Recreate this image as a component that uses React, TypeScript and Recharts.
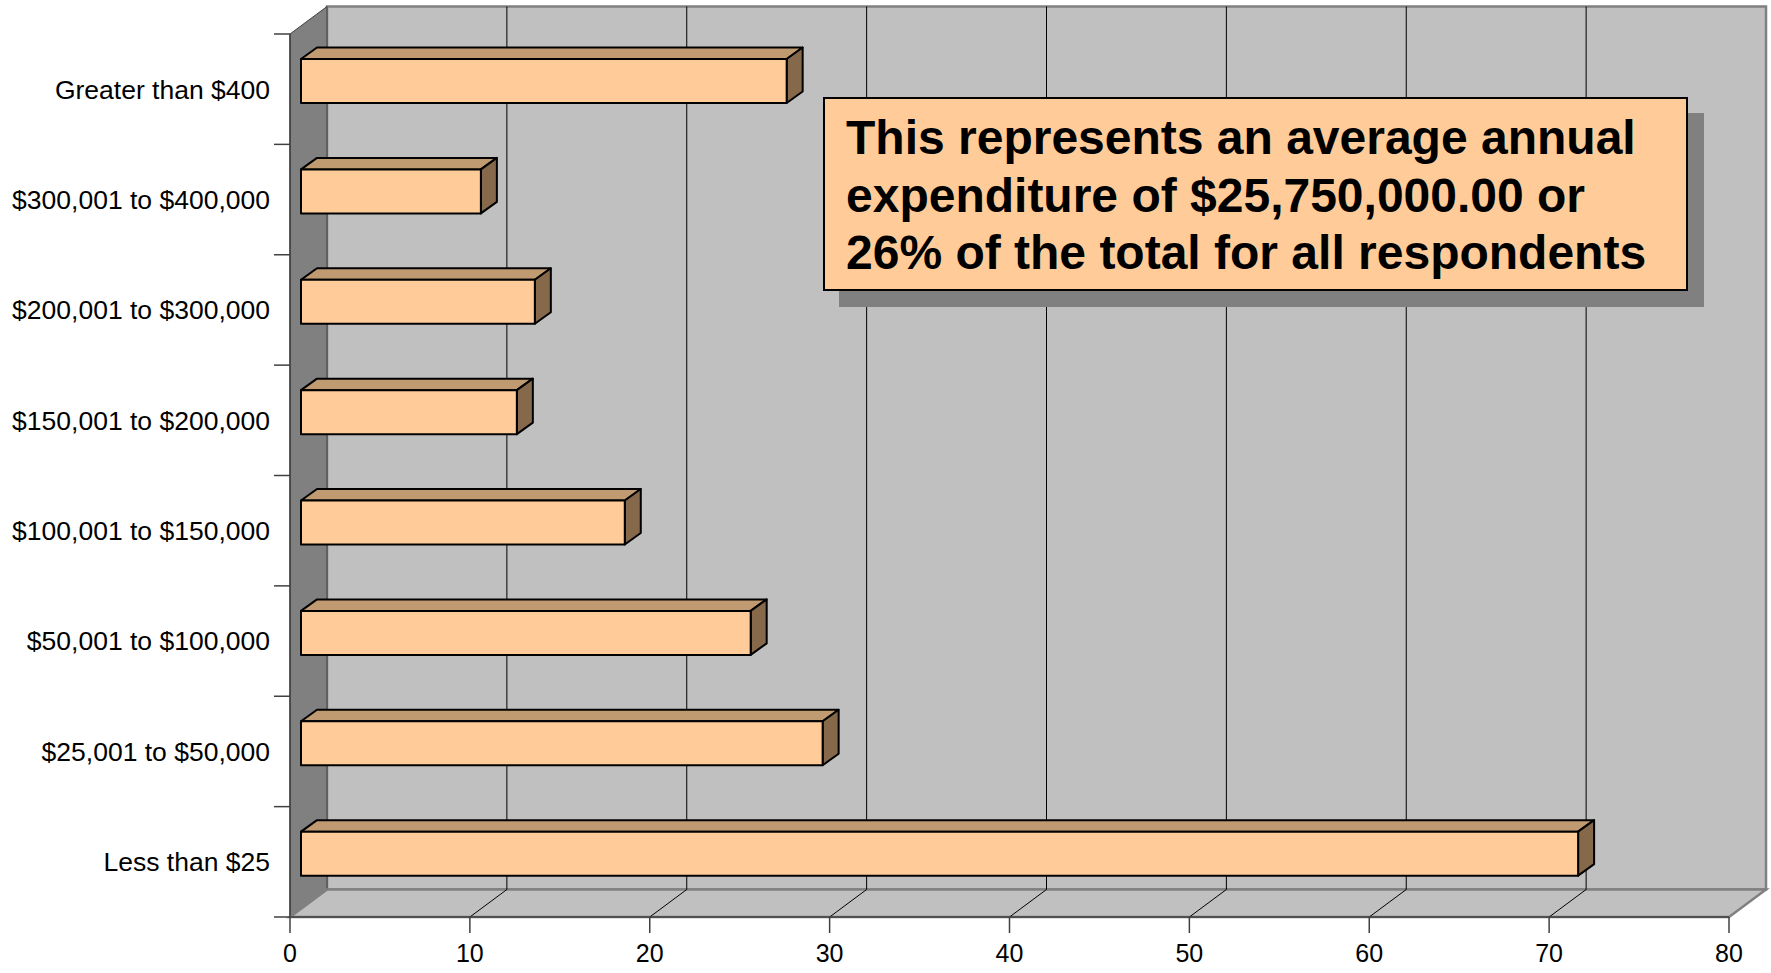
import { BarChart, Bar, XAxis, YAxis, ReferenceArea, ReferenceLine } from "recharts";

const categories = [
  "Greater than $400",
  "$300,001 to $400,000",
  "$200,001 to $300,000",
  "$150,001 to $200,000",
  "$100,001 to $150,000",
  "$50,001 to $100,000",
  "$25,001 to $50,000",
  "Less than $25",
];
const counts = [27, 10, 13, 12, 18, 25, 29, 71];
const xTicks = [0, 10, 20, 30, 40, 50, 60, 70, 80];
const gridValues = [10, 20, 30, 40, 50, 60, 70];
const noteLines = [
  "This represents an average annual",
  "expenditure of $25,750,000.00 or",
  "26% of the total for all respondents",
];

const data = categories.map((name, i) => ({ name, count: counts[i] }));

const W = 1771;
const H = 973;
const MARGIN = { top: 34, right: 42, bottom: 16, left: 0 };
const X_AXIS_H = 40;
const Y_AXIS_W = 290;
const PLOT_H = H - MARGIN.top - MARGIN.bottom - X_AXIS_H;
const BAND = PLOT_H / categories.length;

// 3D look: depth of the box and where the bars sit inside it
const DEPTH = { dx: 37, dy: -27.5 };
const BAR_FRONT = { dx: 11, dy: -8 };
const BAR_DEPTH = { dx: 16, dy: -11.5 };

const FONT = '"Liberation Sans", Arial, Helvetica, sans-serif';
const WALL = "#c0c0c0";
const SIDE = "#808080";
const EDGE = "#404040";

function Walls(props: any) {
  const { x, y, width, height } = props;
  const bx = x + DEPTH.dx;
  const by = y + DEPTH.dy;
  const bottom = y + height;
  return (
    <g>
      <rect x={bx} y={by} width={width} height={height} fill={WALL} stroke={SIDE} strokeWidth={2.5} />
      <polygon
        points={`${x},${y} ${bx},${by} ${bx},${bottom + DEPTH.dy} ${x},${bottom}`}
        fill={SIDE}
        stroke={EDGE}
        strokeWidth={1}
      />
      <polygon
        points={`${x},${bottom} ${bx},${bottom + DEPTH.dy} ${bx + width},${bottom + DEPTH.dy} ${x + width},${bottom}`}
        fill={WALL}
        stroke={SIDE}
        strokeWidth={2.5}
      />
    </g>
  );
}

function GridLine(props: any) {
  const { x1, y1, y2 } = props;
  const top = Math.min(y1, y2);
  const bottom = Math.max(y1, y2);
  const bx = x1 + DEPTH.dx;
  return (
    <g>
      <line x1={bx} y1={top + DEPTH.dy} x2={bx} y2={bottom + DEPTH.dy} stroke="#000" strokeWidth={1} />
      <line x1={x1} y1={bottom} x2={bx} y2={bottom + DEPTH.dy} stroke="#000" strokeWidth={1} />
    </g>
  );
}

function BarBox(props: any) {
  const { x, y, width, height } = props;
  if (!width) return null;
  const fx = x + BAR_FRONT.dx;
  const fy = y + BAR_FRONT.dy;
  const { dx, dy } = BAR_DEPTH;
  return (
    <g stroke="#000" strokeWidth={2} strokeLinejoin="round">
      <polygon
        points={`${fx},${fy} ${fx + dx},${fy + dy} ${fx + width + dx},${fy + dy} ${fx + width},${fy}`}
        fill="#c09a70"
      />
      <polygon
        points={`${fx + width},${fy} ${fx + width + dx},${fy + dy} ${fx + width + dx},${fy + height + dy} ${fx + width},${fy + height}`}
        fill="#86684b"
      />
      <rect x={fx} y={fy} width={width} height={height} fill="#ffcc99" />
    </g>
  );
}

function CategoryTick(props: any) {
  const { x, y, payload, index } = props;
  const lx1 = Y_AXIS_W - 16;
  const lx2 = Y_AXIS_W;
  return (
    <g>
      <line x1={lx1} y1={y - BAND / 2} x2={lx2} y2={y - BAND / 2} stroke={EDGE} strokeWidth={1.5} />
      {index === categories.length - 1 && (
        <line x1={lx1} y1={y + BAND / 2} x2={lx2} y2={y + BAND / 2} stroke={EDGE} strokeWidth={1.5} />
      )}
      <text x={x} y={y} dy="0.355em" textAnchor="end" fontSize={26.5} fontFamily={FONT} fill="#000">
        {payload.value}
      </text>
    </g>
  );
}

export default function App() {
  return (
    <div style={{ position: "absolute", left: 0, top: 0, width: W, height: H, background: "#fff" }}>
      <BarChart width={W} height={H} data={data} layout="vertical" margin={MARGIN}>
        <ReferenceArea
          x1={0}
          x2={80}
          shape={(p: any) => <Walls {...p} />}
          fill="none"
          stroke="none"
          zIndex={-200}
        />
        {gridValues.map((v) => (
          <ReferenceLine key={v} x={v} shape={(p: any) => <GridLine {...p} />} zIndex={-150} />
        ))}
        <XAxis
          type="number"
          domain={[0, 80]}
          ticks={xTicks}
          height={X_AXIS_H}
          tickSize={16}
          tickMargin={11}
          axisLine={{ stroke: EDGE, strokeWidth: 1.5 }}
          tickLine={{ stroke: EDGE, strokeWidth: 1.5 }}
          tick={{ fontSize: 25, fill: "#000", fontFamily: FONT }}
        />
        <YAxis
          type="category"
          dataKey="name"
          width={Y_AXIS_W}
          tickSize={16}
          tickMargin={4}
          tickLine={false}
          axisLine={{ stroke: EDGE, strokeWidth: 1.5 }}
          tick={<CategoryTick />}
          interval={0}
        />
        <Bar dataKey="count" barSize={44} shape={(p: any) => <BarBox {...p} />} isAnimationActive={false} />
      </BarChart>
      <div
        style={{
          position: "absolute",
          left: 823,
          top: 97,
          width: 865,
          height: 194,
          boxSizing: "border-box",
          background: "#ffcc99",
          border: "2px solid #000",
          boxShadow: "16px 16px 0 #808080",
          padding: "10px 0 0 21px",
          fontFamily: FONT,
          fontWeight: "bold",
          fontSize: 48,
          lineHeight: "57.5px",
          color: "#000",
          whiteSpace: "nowrap",
        }}
      >
        {noteLines.map((l) => (
          <div key={l}>{l}</div>
        ))}
      </div>
    </div>
  );
}
